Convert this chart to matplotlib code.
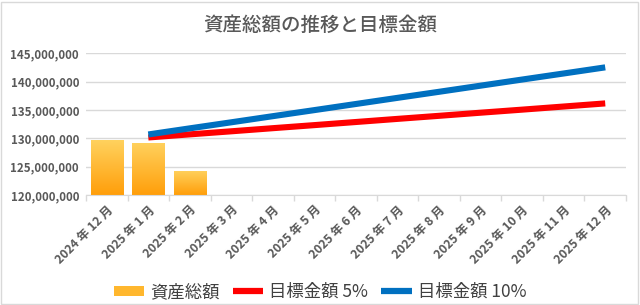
import matplotlib
matplotlib.use("Agg")
import matplotlib.pyplot as plt
import numpy as np
from matplotlib.colors import LinearSegmentedColormap
from matplotlib.patches import Rectangle
from matplotlib.lines import Line2D
from matplotlib.ticker import FuncFormatter, FixedLocator

plt.rcParams['font.family'] = ['Noto Sans CJK JP', 'DejaVu Sans']

categories = ["2024 年 12 月", "2025 年 1 月", "2025 年 2 月", "2025 年 3 月", "2025 年 4 月",
              "2025 年 5 月", "2025 年 6 月", "2025 年 7 月", "2025 年 8 月", "2025 年 9 月",
              "2025 年 10 月", "2025 年 11 月", "2025 年 12 月"]
assets = [129_700_000, 129_200_000, 124_300_000]
target5 = [130_150_000, 130_700_000, 131_240_000, 131_790_000, 132_330_000, 132_880_000,
           133_430_000, 133_970_000, 134_520_000, 135_060_000, 135_610_000, 136_160_000]
target10 = [130_680_000, 131_760_000, 132_830_000, 133_910_000, 134_980_000, 136_060_000,
            137_140_000, 138_210_000, 139_290_000, 140_370_000, 141_440_000, 142_520_000]
yticks = [120_000_000, 125_000_000, 130_000_000, 135_000_000, 140_000_000, 145_000_000]
title = "資産総額の推移と目標金額"
legend_labels = ["資産総額", "目標金額 5%", "目標金額 10%"]

TXT = "#595959"
fig = plt.figure(figsize=(6.4, 3.05), dpi=100)
ax = fig.add_axes([86/640, 1-195/305, 540/640, (195-53.3)/305])

x = np.arange(len(categories))
ymin, ymax = yticks[0], yticks[-1]

# gradient bars
cmap = LinearSegmentedColormap.from_list("g", ["#FF9E0A", "#FFD25E"])
grad = np.linspace(0, 1, 256).reshape(-1, 1)
bw = 0.78
bars = ax.bar(x[:len(assets)], [a - ymin for a in assets], bottom=ymin, width=bw,
              color="none", edgecolor="none", zorder=2)
for b in bars:
    x0, y0 = b.get_x(), b.get_y()
    w, h = b.get_width(), b.get_height()
    im = ax.imshow(grad, extent=[x0, x0+w, y0, y0+h], origin="lower", cmap=cmap,
                   aspect="auto", zorder=2)
    im.set_clip_path(b)

ax.plot(x[1:1+len(target5)], target5, color="#FF0000", lw=4.4, solid_capstyle="butt", zorder=3)
ax.plot(x[1:1+len(target10)], target10, color="#0070C0", lw=4.4, solid_capstyle="butt", zorder=4)
ax.set_aspect("auto")
ax.set_xlim(-0.5, len(categories)-0.5)
ax.set_ylim(ymin, ymax)

ax.set_yticks(yticks)
ax.yaxis.set_major_formatter(FuncFormatter(lambda v, p: f"{int(v):,}"))
ax.tick_params(axis="y", length=0, pad=5, labelsize=8.3, labelcolor=TXT)
for t in ax.get_yticklabels():
    t.set_fontweight("bold")
ax.grid(axis="y", color="#D9D9D9", lw=1, zorder=0)
ax.set_axisbelow(True)

ax.set_xticks(x)
ax.set_xticklabels(categories, rotation=45, ha="right", rotation_mode="anchor",
                   fontsize=8.8, fontweight="bold", color=TXT)
ax.tick_params(axis="x", which="major", length=0, pad=6)
ax.xaxis.set_minor_locator(FixedLocator(np.arange(-0.5, len(categories), 1.0)))
ax.tick_params(axis="x", which="minor", length=4, color="#D9D9D9", width=1)

for s in ["top", "right", "left"]:
    ax.spines[s].set_visible(False)
ax.spines["bottom"].set_color("#D9D9D9")

fig.text(0.5, 1-25/305, title, ha="center", va="center", fontsize=14, color=TXT,
         fontweight="medium")

handles = [Rectangle((0, 0), 1, 1, facecolor="#FFB72E", edgecolor="none"),
           Line2D([], [], color="#FF0000", lw=4.5, solid_capstyle="butt"),
           Line2D([], [], color="#0070C0", lw=4.5, solid_capstyle="butt")]
fig.legend(handles, legend_labels, loc="center", bbox_to_anchor=(0.5, 1-292/305), ncol=3,
           frameon=False, fontsize=12.5, labelcolor="#404040", handlelength=1.75,
           handleheight=0.5, handletextpad=0.35, columnspacing=0.75)

fig.add_artist(Rectangle((1/640, 1/305), 637/640, 302/305, transform=fig.transFigure,
                         fill=False, edgecolor="#D9D9D9", lw=1))

fig.savefig("out.png", dpi=100)
